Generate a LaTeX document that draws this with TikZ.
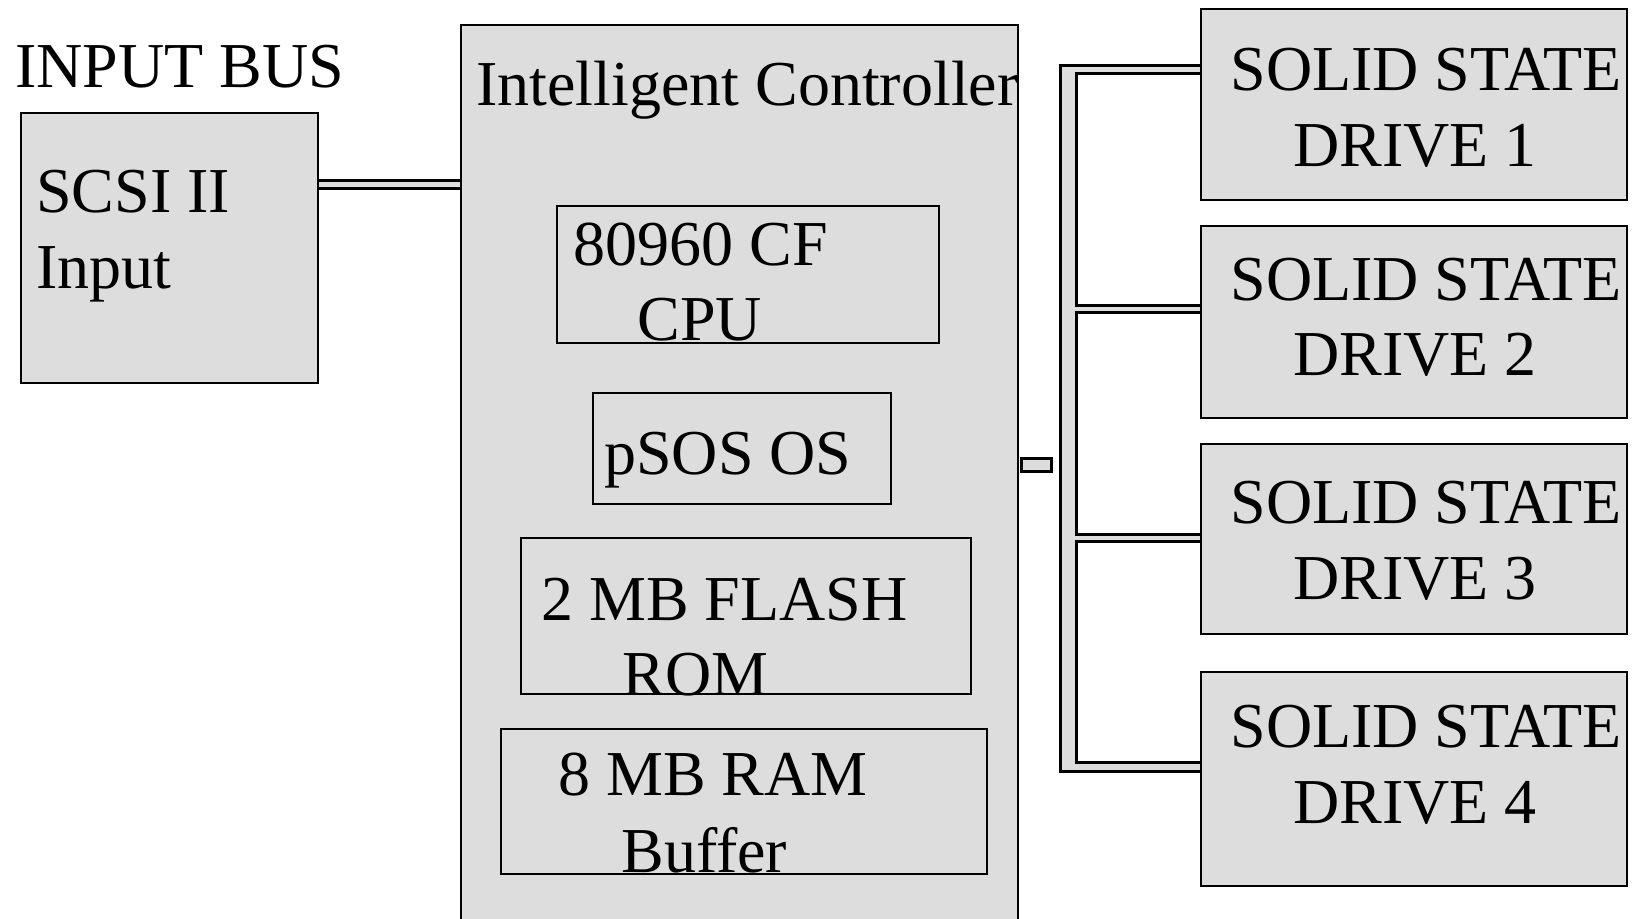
\documentclass[tikz,border=0pt]{standalone}
\usepackage{fontspec}
\setmainfont{Liberation Serif}
\usetikzlibrary{backgrounds}
\definecolor{boxgray}{HTML}{DDDDDD}
\begin{document}
\begin{tikzpicture}[x=0.5pt,y=-0.5pt,
  outerbox/.style={draw=black,fill=boxgray,line width=1.1pt,rectangle,inner sep=0pt,anchor=north west},
  innerbox/.style={draw=black,fill=boxgray,line width=0.9pt,rectangle,inner sep=0pt,anchor=north west},
  txt/.style={anchor=base west,inner sep=0pt,font=\fontsize{32}{38}\selectfont},
  barstroke/.style={draw=black,line width=2.6pt},
  barfill/.style={fill=boxgray}]
\useasboundingbox (0,0) rectangle (1641,919);
% boxes
\node[outerbox,minimum width=148.5pt,minimum height=135pt] (scsi) at (20,112) {};
\node[outerbox,minimum width=278.5pt,minimum height=449pt] (ctrl) at (460,24) {};
\node[innerbox,minimum width=191pt,minimum height=68.5pt] (cpu) at (556,205) {};
\node[innerbox,minimum width=149pt,minimum height=55.5pt] (psos) at (592,392) {};
\node[innerbox,minimum width=225pt,minimum height=78pt] (flash) at (520,537) {};
\node[innerbox,minimum width=243pt,minimum height=72.5pt] (ram) at (500,728) {};
\node[outerbox,minimum width=213pt,minimum height=95.5pt] (ssd1) at (1200,8) {};
\node[outerbox,minimum width=213pt,minimum height=96pt] (ssd2) at (1200,225) {};
\node[outerbox,minimum width=213pt,minimum height=95pt] (ssd3) at (1200,443) {};
\node[outerbox,minimum width=213pt,minimum height=107pt] (ssd4) at (1200,671) {};
\node[innerbox,line width=1.3pt,minimum width=15pt,minimum height=6.5pt] (stub) at (1020,457) {};
% bus coordinates
\coordinate (bustop) at (1062,67);
\coordinate (busbot) at (1075,770);
\begin{scope}[on background layer]
\fill[white] (0,0) rectangle (1641,919);
% input bar
\draw[barstroke] (scsi.east |- 0,182) rectangle (ctrl.west |- 0,187);
\fill[barfill] (scsi.east |- 0,182) rectangle (ctrl.west |- 0,187);
% output bus (stroke then fill to merge)
\draw[barstroke] (bustop) rectangle (busbot);
\draw[barstroke] (bustop) rectangle (ssd1.west |- 0,72);
\draw[barstroke] (1062,307) rectangle (ssd2.west |- 0,311);
\draw[barstroke] (1062,536) rectangle (ssd3.west |- 0,540);
\draw[barstroke] (1062,764) rectangle (ssd4.west |- busbot);
\fill[barfill] (bustop) rectangle (busbot);
\fill[barfill] (bustop) rectangle (ssd1.west |- 0,72);
\fill[barfill] (1062,307) rectangle (ssd2.west |- 0,311);
\fill[barfill] (1062,536) rectangle (ssd3.west |- 0,540);
\fill[barfill] (1062,764) rectangle (ssd4.west |- busbot);
\end{scope}
% texts
\node[txt] (tinput) at (15,88) {INPUT BUS};
\node[txt] (tscsi1) at (36,213) {SCSI II};
\node[txt] (tscsi2) at (36,289) {Input};
\node[txt] (tctrl) at (476,106) {Intelligent Controller};
\node[txt] (tcpu1) at (573,266) {80960 CF};
\node[txt] (tcpu2) at (637,340) {CPU};
\node[txt] (tpsos) at (604,474) {pSOS OS};
\node[txt] (tfl1) at (541,620) {2 MB FLASH};
\node[txt] (tfl2) at (622,695) {ROM};
\node[txt] (tram1) at (558,795) {8 MB RAM};
\node[txt] (tram2) at (621,872) {Buffer};
\node[txt] (ts1a) at (1230,91) {SOLID STATE};
\node[txt] (ts1b) at (1293,167) {DRIVE 1};
\node[txt] (ts2a) at (1230,300) {SOLID STATE};
\node[txt] (ts2b) at (1293,375) {DRIVE 2};
\node[txt] (ts3a) at (1230,523) {SOLID STATE};
\node[txt] (ts3b) at (1293,599) {DRIVE 3};
\node[txt] (ts4a) at (1230,747) {SOLID STATE};
\node[txt] (ts4b) at (1293,823) {DRIVE 4};
\end{tikzpicture}
\end{document}
